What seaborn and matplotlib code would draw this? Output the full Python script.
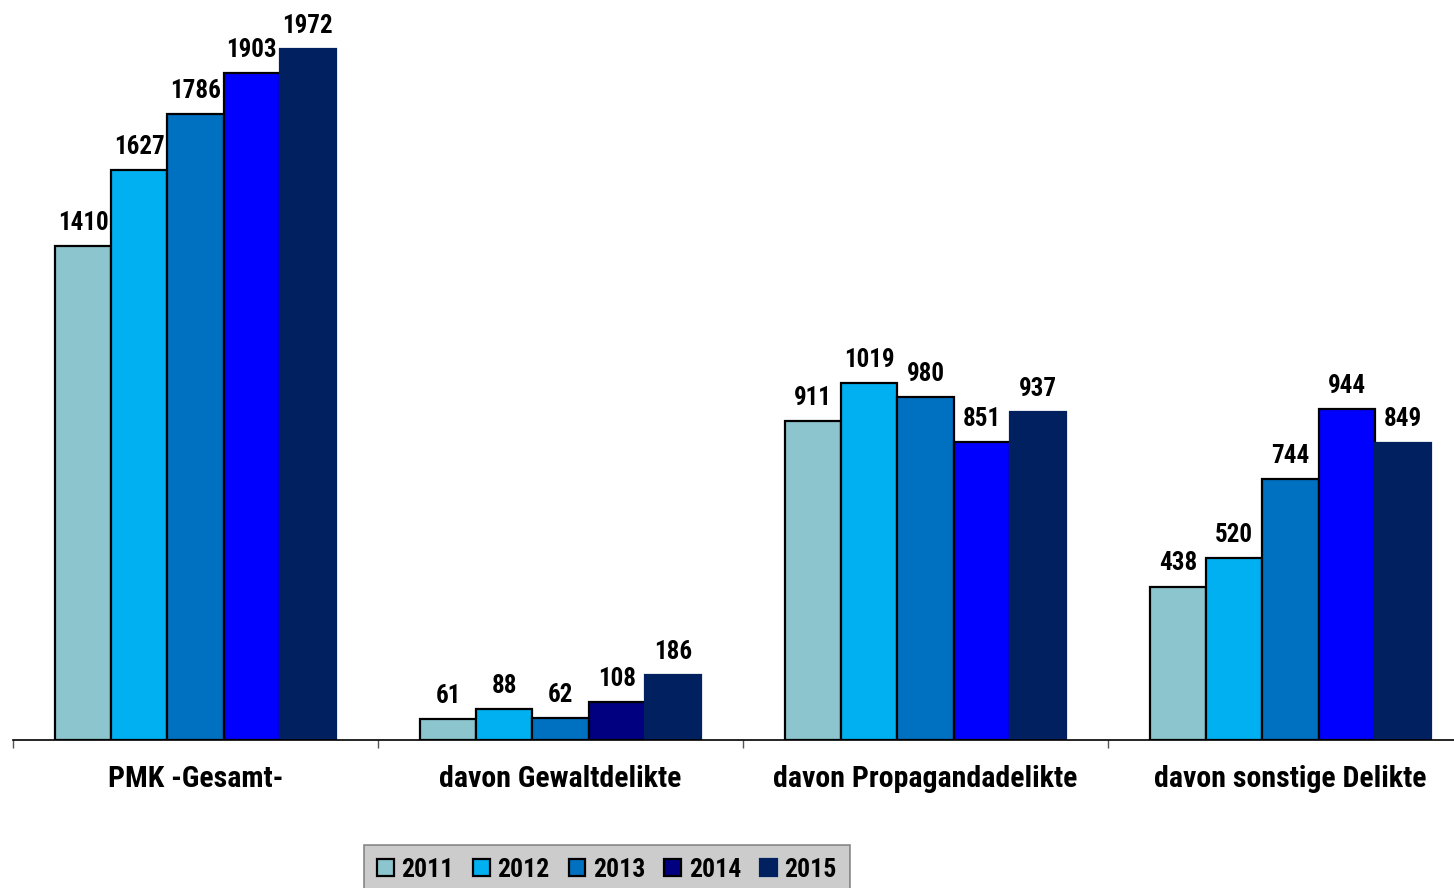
import pandas as pd
import matplotlib.pyplot as plt
import seaborn as sns
from matplotlib.patches import Patch

categories = ["PMK -Gesamt-", "davon Gewaltdelikte", "davon Propagandadelikte", "davon sonstige Delikte"]
years = ["2011", "2012", "2013", "2014", "2015"]
v2011 = [1410, 61, 911, 438]
v2012 = [1627, 88, 1019, 520]
v2013 = [1786, 62, 980, 744]
v2014 = [1903, 108, 851, 944]
v2015 = [1972, 186, 937, 849]

colors = ["#8DC5CF", "#00B0F0", "#0070C0", "#000080", "#002060"]
bright_2014 = "#0000FF"

rows = []
for y, vals in zip(years, [v2011, v2012, v2013, v2014, v2015]):
    for c, v in zip(categories, vals):
        rows.append({"cat": c, "year": y, "value": v})
df = pd.DataFrame(rows)

sns.set_style("white")
plt.rcParams["font.family"] = ["Liberation Sans Narrow", "Roboto Condensed", "Barlow Semi Condensed", "DejaVu Sans"]
plt.rcParams["font.stretch"] = "condensed"
plt.rcParams["text.color"] = "black"
plt.rcParams["xtick.color"] = "black"

fig = plt.figure(figsize=(14.54, 8.88), dpi=100)
ax = fig.add_axes([13 / 1454, 148 / 888, 1460 / 1454, 740 / 888])

sns.barplot(data=df, x="cat", y="value", hue="year", palette=colors,
            width=0.77, saturation=1, ax=ax, legend=False,
            edgecolor="black", linewidth=1.6)

# 2014 bars are bright blue except in the Gewalt group; 2015 bars have no black edge
for i, bar in enumerate(ax.containers[3]):
    if i != 1:
        bar.set_facecolor(bright_2014)
for bar in ax.containers[4]:
    bar.set_edgecolor(colors[4])

for cont in ax.containers:
    ax.bar_label(cont, padding=8, fontsize=18, fontweight="bold", color="black")

ax.set_xlim(-0.5, 3.5)
ax.set_ylim(0, 2112)
ax.set_xlabel("")
ax.set_ylabel("")
ax.set_yticks([])
for s in ["left", "right", "top"]:
    ax.spines[s].set_visible(False)
ax.spines["bottom"].set_color("black")
ax.spines["bottom"].set_linewidth(1.2)
ax.set_xticks([-0.5, 0.5, 1.5, 2.5], minor=True)
ax.tick_params(axis="x", which="minor", length=6, width=1, color="#555555", direction="out", bottom=True)
ax.tick_params(axis="x", which="major", length=0, pad=18, labelsize=21.5, labelcolor="black")
for lab in ax.get_xticklabels():
    lab.set_fontweight("bold")

handles = [Patch(facecolor=c, edgecolor=("black" if i < 4 else c), linewidth=1.6, label=y)
           for i, (c, y) in enumerate(zip(colors, years))]
leg = fig.legend(handles=handles, loc="upper center", bbox_to_anchor=(607 / 1454, 1 - 845 / 888),
                 ncol=5, frameon=True, fancybox=False, handlelength=0.65, borderaxespad=0,
                 handleheight=0.65, handletextpad=0.3, columnspacing=0.74, borderpad=0.5,
                 prop={"weight": "bold", "size": 18.5})
leg.get_frame().set_facecolor("#C0C0C0")
leg.get_frame().set_edgecolor("#707070")
leg.get_frame().set_linewidth(1.2)

fig.savefig("out.png", dpi=100)
